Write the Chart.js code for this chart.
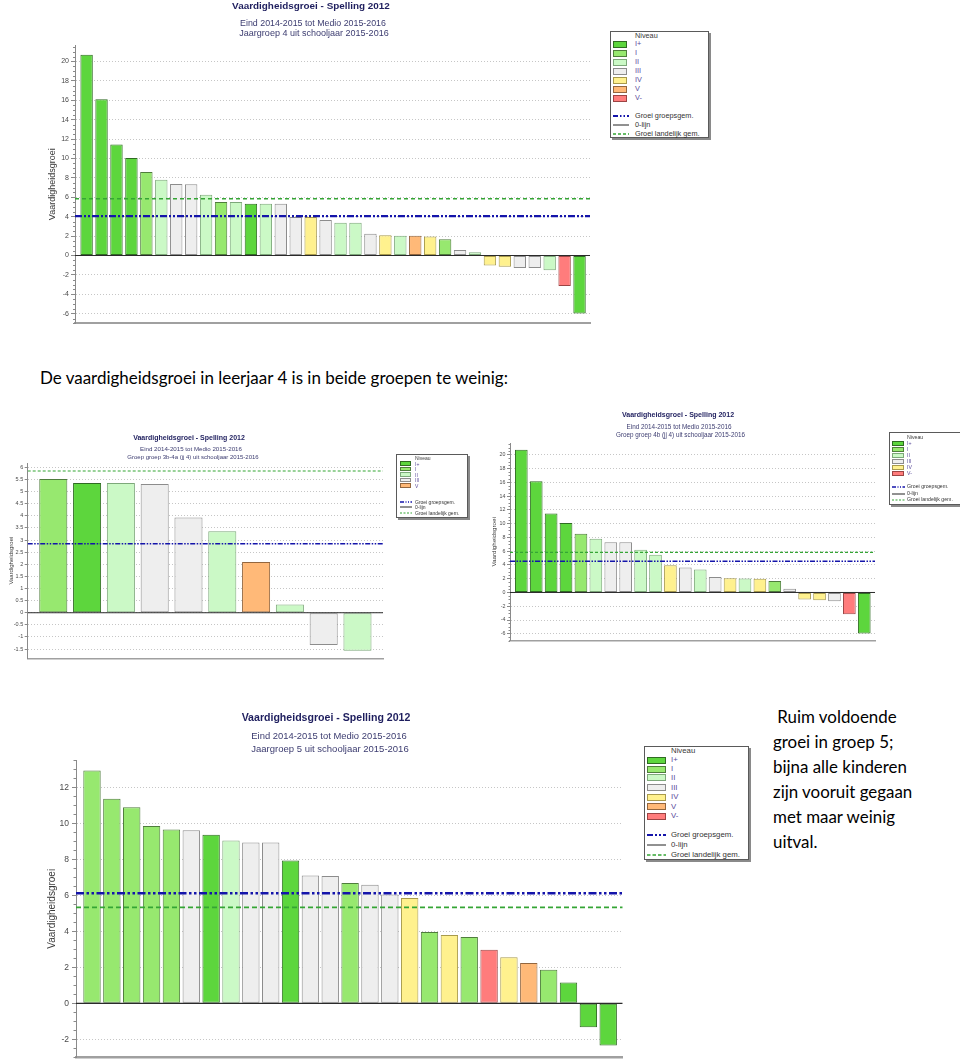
<!DOCTYPE html>
<html lang="nl">
<head>
<meta charset="utf-8">
<title>Vaardigheidsgroei - Spelling 2012</title>
<script src="https://cdn.jsdelivr.net/npm/chart.js@4.4.1/dist/chart.umd.min.js"></script>
<style>
html,body{margin:0;padding:0;background:#fff;}
body{position:relative;width:960px;height:1059px;overflow:hidden;font-family:"Liberation Sans",Arial,sans-serif;}
canvas{position:absolute;}
.txt{position:absolute;white-space:nowrap;line-height:1;}
.lgbox{position:absolute;box-sizing:border-box;border:1px solid #5a5a5a;background:#fff;box-shadow:2px 2px 0 #8a8a8a;}
.sw{position:absolute;box-sizing:border-box;}
</style>
</head>
<body>
<canvas id="cA" width="600" height="330" style="left:0;top:0"></canvas>
<canvas id="cB" width="400" height="240" style="left:0;top:425px"></canvas>
<canvas id="cC" width="480" height="245" style="left:480px;top:400px"></canvas>
<canvas id="cD" width="640" height="359" style="left:0;top:700px"></canvas>
<script>
// ---------------- data ----------------
const LEVEL_NAMES = ['I+','I','II','III','IV','V','V-'];
const LINE_LABELS = ['Groei groepsgem.','0-lijn','Groei landelijk gem.'];
const LEGEND_HEADER = 'Niveau';
const Y_TITLE = 'Vaardigheidsgroei';
const CHART_TITLE = 'Vaardigheidsgroei - Spelling 2012';
const PERIOD = 'Eind 2014-2015 tot Medio 2015-2016';

// Chart A: Jaargroep 4
const subtitleA = 'Jaargroep 4 uit schooljaar 2015-2016';
const valuesA = [20.7,16.1,11.45,10.05,8.6,7.8,7.38,7.34,6.25,5.52,5.52,5.34,5.34,5.34,3.97,3.97,3.65,3.38,3.38,2.24,2.1,2.03,2.03,1.97,1.68,0.57,0.34,-1.03,-1.15,-1.28,-1.28,-1.52,-3.14,-5.97];
const levelsA = ['I+','I+','I+','I+','I','II','III','III','II','I','II','I+','II','III','III','IV','III','II','II','III','IV','II','V','IV','I','III','II','IV','IV','III','III','II','V-','I+'];
const groupAvgA = 4.05;
const nationalAvgA = 5.86;
const yRangeA = [-7, 21.7];
const yStepA = 2;
const legendLevelsA = ['I+','I','II','III','IV','V','V-'];

// Chart B: groep 3b-4a
const subtitleB = 'Groep groep 3b-4a (jj 4) uit schooljaar 2015-2016';
const valuesB = [5.52,5.35,5.35,5.31,3.93,3.36,2.09,0.34,-1.33,-1.57];
const levelsB = ['I','I+','II','III','III','II','V','II','III','II'];
const groupAvgB = 2.85;
const nationalAvgB = 5.85;
const yRangeB = [-1.88, 6.18];
const yStepB = 0.5;
const legendLevelsB = ['I+','I','II','III','V'];

// Chart C: groep 4b
const subtitleC = 'Groep groep 4b (jj 4) uit schooljaar 2015-2016';
const valuesC = [20.73,16.13,11.48,10.07,8.52,7.8,7.31,7.31,6.2,5.47,3.97,3.63,3.34,2.23,2.08,2.03,1.99,1.65,0.53,-1.02,-1.11,-1.26,-3.15,-5.96];
const levelsC = ['I+','I+','I+','I+','I','II','III','III','II','II','IV','III','II','III','IV','II','IV','I','III','IV','IV','III','V-','I+'];
const groupAvgC = 4.55;
const nationalAvgC = 5.81;
const yRangeC = [-7, 21.7];
const yStepC = 2;
const legendLevelsC = ['I+','I','II','III','IV','V-'];

// Chart D: Jaargroep 5
const subtitleD = 'Jaargroep 5 uit schooljaar 2015-2016';
const valuesD = [12.94,11.37,10.89,9.85,9.65,9.61,9.37,9.04,8.93,8.93,7.93,7.1,7.07,6.69,6.59,6.04,5.85,3.96,3.8,3.69,2.98,2.56,2.24,1.87,1.15,-1.33,-2.35];
const levelsD = ['I','I','I','I','I','III','I+','II','III','III','I+','III','III','I','III','III','IV','I','IV','I','V-','IV','V','I','I+','I+','I+'];
const groupAvgD = 6.12;
const nationalAvgD = 5.33;
const yRangeD = [-3, 13.5];
const yStepD = 2;
const legendLevelsD = ['I+','I','II','III','IV','V','V-'];

const introText = 'De vaardigheidsgroei in leerjaar 4 is in beide groepen te weinig:';
const noteLines = [' Ruim voldoende','groei in groep 5;','bijna alle kinderen','zijn vooruit gegaan','met maar weinig','uitval.'];

// ---------------- styles ----------------
const FILL = {'I+':'#5dd63d','I':'#97e86f','II':'#cbf9c6','III':'#eeeeee','IV':'#fff18e','V':'#ffb978','V-':'#ff7c7c'};
const EDGE = {'I+':'#2f6b22','I':'#4f7d3c','II':'#7da87a','III':'#8c8c8c','IV':'#a89a4c','V':'#93663e','V-':'#9c4444'};
const BLUE = '#1414aa', GREEN = '#35a535';

Chart.defaults.font.family = "'Liberation Sans', Arial, sans-serif";

const minorTicks = {
  id: 'minorTicks',
  afterDraw(chart, args, opts) {
    if (!opts || !opts.step) return;
    const y = chart.scales.y, ctx = chart.ctx, x0 = chart.chartArea.left;
    const major = y.options.ticks.stepSize;
    ctx.save();
    ctx.strokeStyle = opts.color; ctx.lineWidth = 1;
    for (let k = Math.ceil(y.min / opts.step); k * opts.step <= y.max + 1e-9; k++) {
      const v = k * opts.step;
      const r = v / major;
      if (Math.abs(r - Math.round(r)) < 1e-6) continue;
      const py = Math.round(y.getPixelForValue(v)) + 0.5;
      ctx.beginPath(); ctx.moveTo(x0 - opts.len, py); ctx.lineTo(x0, py); ctx.stroke();
    }
    ctx.restore();
  }
};
Chart.register(minorTicks);

function drawChart(id, d, L) {
  const hline = (v, color, width, dash) => ({
    type: 'line', data: [{x: L.xMin, y: v}, {x: L.xMax, y: v}],
    borderColor: color, borderWidth: width, borderDash: dash, pointRadius: 0,
    fill: false, order: 1, borderCapStyle: 'butt'
  });
  new Chart(document.getElementById(id), {
    type: 'bar',
    data: { datasets: [
      hline(0, '#2a2a2a', L.zeroW, []),
      hline(d.group, BLUE, L.blueW, L.blueDash),
      hline(d.national, GREEN, L.greenW, L.greenDash),
      { type: 'bar', data: d.values.map((v, i) => ({x: i, y: v})),
        backgroundColor: d.levels.map(l => FILL[l]),
        borderColor: d.levels.map(l => EDGE[l]),
        borderWidth: 1, borderSkipped: false,
        barPercentage: L.barRatio, categoryPercentage: 1, order: 2 }
    ]},
    options: {
      responsive: false, animation: false, events: [], devicePixelRatio: 1,
      layout: { padding: L.pad, autoPadding: false },
      plugins: { legend: {display: false}, tooltip: {enabled: false}, title: {display: false},
                 minorTicks: {step: L.minor, len: L.minorLen, color: '#8a8a8a'} },
      scales: {
        x: { type: 'linear', min: L.xMin, max: L.xMax, offset: false,
             ticks: {display: false}, grid: {display: false, drawTicks: false},
             border: {display: true, color: '#a0a0a0', width: L.bottomW},
             afterFit(s) { s.height = 0; s.paddingLeft = 0; s.paddingRight = 0; } },
        y: { type: 'linear', min: d.yRange[0], max: d.yRange[1],
             ticks: { stepSize: d.yStep, includeBounds: false, padding: L.tickPad, color: '#4a4a4a',
                      font: {size: L.tickFont}, callback: v => String(Math.round(v * 100) / 100) },
             grid: { color: '#c6c6c6', lineWidth: 1, tickLength: L.tickLen, tickColor: '#8a8a8a', drawTicks: true },
             border: { display: true, color: '#8a8a8a', width: 1, dash: [1, 2] },
             title: { display: true, text: Y_TITLE, color: '#3a3a3a', font: {size: L.titleFont}, padding: {top: 0, bottom: 0} },
             afterFit(s) { s.width = L.axisW; s.paddingTop = 0; s.paddingBottom = 0; } }
      }
    }
  });
}

drawChart('cA', {values: valuesA, levels: levelsA, group: groupAvgA, national: nationalAvgA, yRange: yRangeA, yStep: yStepA},
  {xMin: -0.777, xMax: 33.70, barRatio: 0.83, pad: {left: 47, right: 10, top: 45, bottom: 6.6}, axisW: 28,
   tickFont: 7, titleFont: 9, tickLen: 4, tickPad: 2, minor: 0.5, minorLen: 2,
   blueW: 2.2, blueDash: [7, 2, 2, 2, 2, 2], greenW: 1.5, greenDash: [4, 3], zeroW: 1.2, bottomW: 2});
drawChart('cB', {values: valuesB, levels: levelsB, group: groupAvgB, national: nationalAvgB, yRange: yRangeB, yStep: yStepB},
  {xMin: -0.757, xMax: 9.755, barRatio: 0.83, pad: {left: 7.4, right: 17, top: 38, bottom: 6.7}, axisW: 20.3,
   tickFont: 5.5, titleFont: 6, tickLen: 3, tickPad: 1.5, minor: 0, minorLen: 0,
   blueW: 1.5, blueDash: [5, 1.5, 1.5, 1.5, 1.5, 1.5], greenW: 1.2, greenDash: [3, 2], zeroW: 1, bottomW: 1.5});
drawChart('cC', {values: valuesC, levels: levelsC, group: groupAvgC, national: nationalAvgC, yRange: yRangeC, yStep: yStepC},
  {xMin: -0.758, xMax: 23.72, barRatio: 0.85, pad: {left: 10.3, right: 85, top: 43, bottom: 4.3}, axisW: 19.7,
   tickFont: 5.3, titleFont: 6.2, tickLen: 3, tickPad: 1.5, minor: 0.5, minorLen: 1.5,
   blueW: 1.5, blueDash: [5, 1.5, 1.5, 1.5, 1.5, 1.5], greenW: 1.2, greenDash: [3, 2], zeroW: 1, bottomW: 1.5});
drawChart('cD', {values: valuesD, levels: levelsD, group: groupAvgD, national: nationalAvgD, yRange: yRangeD, yStep: yStepD},
  {xMin: -0.806, xMax: 26.73, barRatio: 0.876, pad: {left: 46.7, right: 17.3, top: 60.3, bottom: 1.7}, axisW: 29.3,
   tickFont: 8.5, titleFont: 10, tickLen: 4, tickPad: 3, minor: 0.5, minorLen: 2.5,
   blueW: 2.5, blueDash: [8, 2.5, 2.5, 2.5, 2.5, 2.5], greenW: 1.8, greenDash: [5, 3], zeroW: 1.3, bottomW: 2.5});

// ---------------- HTML text ----------------
function place(text, x, y, o) {
  const el = document.createElement('div');
  el.className = 'txt';
  el.textContent = text;
  el.style.fontSize = o.size + 'px';
  if (o.bold) el.style.fontWeight = 'bold';
  if (o.family) el.style.fontFamily = o.family;
  el.style.color = o.color || '#000';
  el.style.left = x + 'px';
  el.style.top = y + 'px';
  el.style.transform = o.align === 'left' ? 'translate(0,-50%)' : 'translate(-50%,-50%)';
  document.body.appendChild(el);
  if (o.fit) {
    const w = el.getBoundingClientRect().width;
    if (w > 0) el.style.fontSize = (o.size * o.fit / w) + 'px';
  }
  return el;
}
const NAVY = '#1e1e5e', SUB = '#3c3c70';
function titles(T) {
  place(CHART_TITLE, T.t[0], T.t[1], {size: T.t[2], bold: true, color: NAVY, fit: T.t[3]});
  place(PERIOD, T.s1[0], T.s1[1], {size: T.s1[2], color: SUB, fit: T.s1[3]});
  place(T.sub, T.s2[0], T.s2[1], {size: T.s2[2], color: SUB, fit: T.s2[3]});
}
titles({sub: subtitleA, t: [311, 6, 10, 158], s1: [313, 22.5, 9, 146], s2: [314, 33.5, 9, 149.6]});
titles({sub: subtitleB, t: [189, 437, 7, 111.7], s1: [191, 449, 6.2, 102], s2: [193, 457, 6.2, 131.3]});
titles({sub: subtitleC, t: [678, 415, 7, 112.3], s1: [679, 427, 6.4, 105], s2: [680.5, 435, 6.4, 129]});
titles({sub: subtitleD, t: [326, 717, 10.5, 169], s1: [329, 735.7, 9.4, 155], s2: [330, 748.7, 9.4, 157.3]});

// ---------------- legends ----------------
const NS = 'http://www.w3.org/2000/svg';
function sample(x, y, w, color, width, dash) {
  const s = document.createElementNS(NS, 'svg');
  s.setAttribute('width', w); s.setAttribute('height', 6);
  s.style.position = 'absolute'; s.style.left = x + 'px'; s.style.top = (y - 3) + 'px';
  const l = document.createElementNS(NS, 'line');
  l.setAttribute('x1', 0); l.setAttribute('y1', 3); l.setAttribute('x2', w); l.setAttribute('y2', 3);
  l.setAttribute('stroke', color); l.setAttribute('stroke-width', width);
  if (dash) l.setAttribute('stroke-dasharray', dash);
  s.appendChild(l);
  document.body.appendChild(s);
}
function legend(levels, L) {
  const b = document.createElement('div');
  b.className = 'lgbox';
  b.style.left = L.box[0] + 'px'; b.style.top = L.box[1] + 'px';
  b.style.width = (L.box[2] - L.box[0]) + 'px'; b.style.height = (L.box[3] - L.box[1]) + 'px';
  document.body.appendChild(b);
  place(LEGEND_HEADER, L.labelX, L.headY, {size: L.font, color: '#3a3a3a', align: 'left'});
  levels.forEach((lv, i) => {
    const s = document.createElement('div');
    s.className = 'sw';
    s.style.left = L.sw[0] + 'px'; s.style.top = (L.rows[i] - L.sw[2] / 2) + 'px';
    s.style.width = L.sw[1] + 'px'; s.style.height = L.sw[2] + 'px';
    s.style.background = FILL[lv]; s.style.border = '1px solid ' + EDGE[lv];
    document.body.appendChild(s);
    place(lv, L.labelX, L.rows[i], {size: L.font, color: '#5a4b9b', align: 'left'});
  });
  sample(L.ln[0], L.lines[0], L.ln[1], BLUE, L.lw, L.blueDash);
  sample(L.ln[0], L.lines[1], L.ln[1], '#222', 1, null);
  sample(L.ln[0], L.lines[2], L.ln[1], GREEN, L.lw * 0.7, L.greenDash);
  LINE_LABELS.forEach((t, i) => place(t, L.labelX, L.lines[i], {size: L.font, color: '#333', align: 'left'}));
}
legend(legendLevelsA, {box: [610, 31, 709, 138], font: 7.3, labelX: 635, headY: 36,
  rows: [44, 53, 62, 71, 80, 89, 98], lines: [116, 125, 133.5], sw: [613, 14, 7], ln: [613, 16], lw: 2, blueDash: '5 2 1.5 2 1.5 2', greenDash: '3 2'});
legend(legendLevelsB, {box: [396, 454, 468, 518], font: 5, labelX: 415, headY: 458,
  rows: [463.5, 469, 474.5, 480, 485.5], lines: [502, 507, 512.5], sw: [400, 11, 4.5], ln: [400, 12], lw: 1.5, blueDash: '4 1.5 1 1.5 1 1.5', greenDash: '2 1.5'});
legend(legendLevelsC, {box: [889, 432, 961, 505], font: 5.2, labelX: 907, headY: 437.5,
  rows: [443.5, 449.5, 455.5, 461.5, 467.5, 473.5], lines: [487, 493.5, 500], sw: [892, 12, 5], ln: [892, 13], lw: 1.5, blueDash: '4 1.5 1 1.5 1 1.5', greenDash: '2 1.5'});
legend(legendLevelsD, {box: [644, 746, 749, 860], font: 7.8, labelX: 671, headY: 751,
  rows: [760, 769, 777.5, 787.5, 797, 806.5, 816], lines: [835, 844.5, 855], sw: [647, 19, 7], ln: [647, 19], lw: 2, blueDash: '6 2 2 2 2 2', greenDash: '3.5 2'});

// ---------------- body text ----------------
const BODY_FONT = "Lato, 'Open Sans', sans-serif";
place(introText, 40, 378, {size: 16, family: BODY_FONT, align: 'left', fit: 468});
const probe = place(noteLines[2], -500, 0, {size: 17, family: BODY_FONT, align: 'left', fit: 134});
const noteSize = parseFloat(probe.style.fontSize);
probe.remove();
const noteYs = [717, 742, 767, 792, 817, 842];
noteLines.forEach((t, i) => {
  const el = place(t, 773, noteYs[i], {size: noteSize, family: BODY_FONT, align: 'left'});
  el.style.whiteSpace = 'pre';
});
</script>
</body>
</html>
